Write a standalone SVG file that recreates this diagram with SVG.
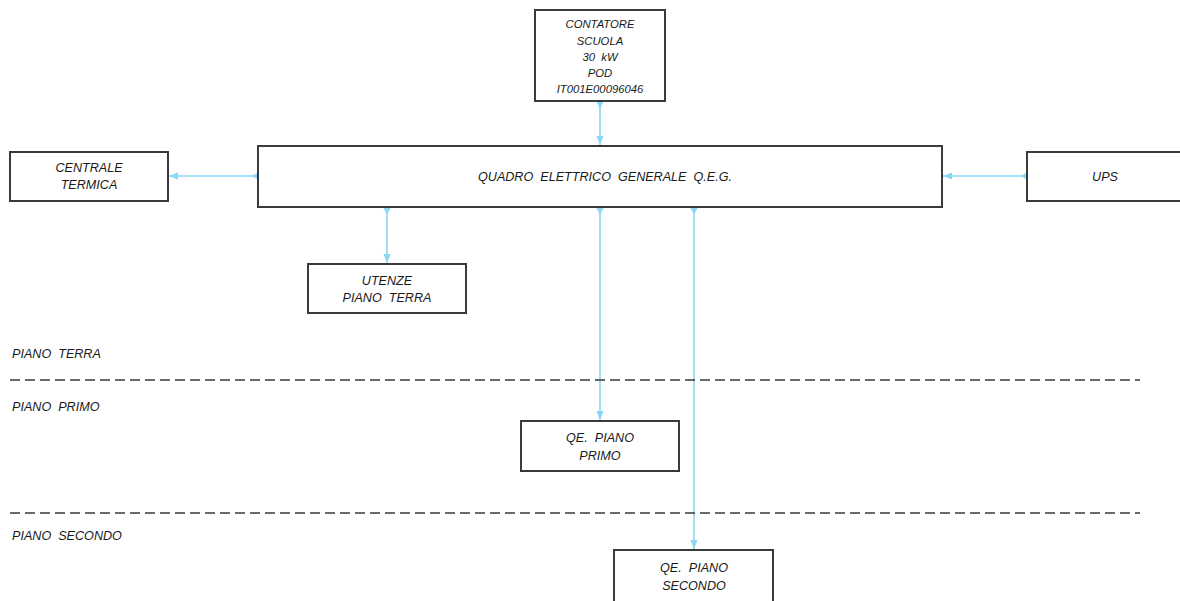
<svg xmlns="http://www.w3.org/2000/svg" width="1180" height="601" viewBox="0 0 1180 601">
<style>
.box{fill:#fff;stroke:#3a3a3a;stroke-width:2}
.t{font-family:"Liberation Sans",Arial,sans-serif;font-style:italic;font-size:12.6px;fill:#1a1a1a;text-anchor:middle}
.s{font-size:11.3px}
.l{text-anchor:start}
.c{stroke:#8ad6f7;stroke-width:1.6;fill:none;marker-end:url(#ah);marker-start:url(#st)}
.d{stroke:#3a3a3a;stroke-width:1.5;stroke-dasharray:10 5;fill:none}
</style>
<defs>
<marker id="ah" viewBox="0 0 10 10" refX="10" refY="5" markerWidth="9" markerHeight="9" markerUnits="userSpaceOnUse" orient="auto">
<path d="M0,1 L10,5 L0,9 Z" fill="#8ad6f7"/>
</marker>
<marker id="st" viewBox="0 0 10 10" refX="1" refY="5" markerWidth="8" markerHeight="8" markerUnits="userSpaceOnUse" orient="auto">
<path d="M0,0 L9,5 L0,10 Z" fill="#8ad6f7"/>
</marker>
</defs>
<g id="connectors">
<path class="c" d="M600,102 L600,145"/>
<path class="c" d="M258,176 L169,176"/>
<path class="c" d="M1027,176 L943,176"/>
<path class="c" d="M387,208 L387,263"/>
<path class="c" d="M600,208 L600,420"/>
<path class="c" d="M694,208 L694,549"/>
</g>
<g id="floors">
<path class="d" d="M10,380 L1140,380"/>
<path class="d" d="M10,513 L1140,513"/>
<text class="t l" x="12" y="358" xml:space="preserve">PIANO  TERRA</text>
<text class="t l" x="12" y="411" xml:space="preserve">PIANO  PRIMO</text>
<text class="t l" x="12" y="540" xml:space="preserve">PIANO  SECONDO</text>
</g>
<g id="contatore">
<rect class="box" x="535" y="10" width="130" height="91"/>
<text class="t s" x="600" y="28">CONTATORE</text>
<text class="t s" x="600" y="45">SCUOLA</text>
<text class="t s" x="600" y="61" xml:space="preserve">30  kW</text>
<text class="t s" x="600" y="77">POD</text>
<text class="t s" x="600" y="93">IT001E00096046</text>
</g>
<g id="qeg">
<rect class="box" x="258" y="146" width="684" height="61"/>
<text class="t" x="605" y="181" xml:space="preserve">QUADRO  ELETTRICO  GENERALE  Q.E.G.</text>
</g>
<g id="centrale">
<rect class="box" x="10" y="152" width="158" height="49"/>
<text class="t" x="89" y="172">CENTRALE</text>
<text class="t" x="89" y="189">TERMICA</text>
</g>
<g id="ups">
<rect class="box" x="1027" y="152" width="160" height="49"/>
<text class="t" x="1105" y="181">UPS</text>
</g>
<g id="utenze">
<rect class="box" x="308" y="264" width="158" height="49"/>
<text class="t" x="387" y="285">UTENZE</text>
<text class="t" x="387" y="302" xml:space="preserve">PIANO  TERRA</text>
</g>
<g id="qe-primo">
<rect class="box" x="521" y="421" width="158" height="50"/>
<text class="t" x="600" y="442" xml:space="preserve">QE.  PIANO</text>
<text class="t" x="600" y="460">PRIMO</text>
</g>
<g id="qe-secondo">
<rect class="box" x="614" y="550" width="159" height="60"/>
<text class="t" x="694" y="572" xml:space="preserve">QE.  PIANO</text>
<text class="t" x="694" y="590">SECONDO</text>
</g>
</svg>
